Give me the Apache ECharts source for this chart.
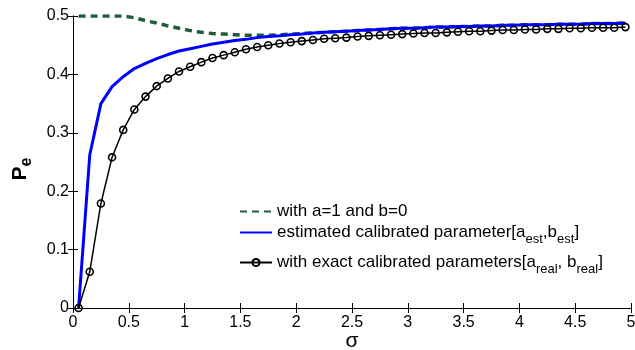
<!DOCTYPE html>
<html>
<head>
<meta charset="utf-8">
<script src="https://cdn.jsdelivr.net/npm/echarts@6/dist/echarts.min.js"></script>
<style>html,body{margin:0;padding:0;background:#fff}#c{width:635px;height:350px}</style>
</head>
<body>
<div id="c"></div>
<script>
var sigma = [0.05,0.15,0.25,0.35,0.45,0.55,0.65,0.75,0.85,0.95,
             1.05,1.15,1.25,1.35,1.45,1.55,1.65,1.75,1.85,1.95,
             2.05,2.15,2.25,2.35,2.45,2.55,2.65,2.75,2.85,2.95,
             3.05,3.15,3.25,3.35,3.45,3.55,3.65,3.75,3.85,3.95,
             4.05,4.15,4.25,4.35,4.45,4.55,4.65,4.75,4.85,4.95];
var pUncal = [0.500,0.500,0.500,0.500,0.500,0.497,0.492,0.488,0.483,0.479,
              0.475,0.472,0.470,0.469,0.468,0.467,0.467,0.467,0.468,0.469,
              0.470,0.471,0.472,0.473,0.474,0.475,0.476,0.477,0.478,0.479,
              0.479,0.480,0.481,0.481,0.482,0.482,0.483,0.483,0.484,0.484,
              0.485,0.485,0.485,0.486,0.486,0.486,0.487,0.487,0.487,0.488];
var pEst = [0.000,0.262,0.350,0.379,0.396,0.410,0.419,0.427,0.434,0.440,
            0.444,0.448,0.452,0.455,0.458,0.460,0.463,0.465,0.466,0.468,
            0.469,0.471,0.472,0.473,0.474,0.475,0.476,0.477,0.478,0.479,
            0.479,0.480,0.481,0.481,0.482,0.482,0.483,0.483,0.484,0.484,
            0.485,0.485,0.485,0.486,0.486,0.486,0.487,0.487,0.487,0.488];
var pReal = [0.000,0.062,0.179,0.258,0.305,0.340,0.362,0.380,0.393,0.405,
             0.413,0.421,0.428,0.433,0.438,0.443,0.447,0.450,0.453,0.455,
             0.457,0.459,0.461,0.462,0.463,0.465,0.466,0.467,0.468,0.469,
             0.470,0.471,0.471,0.472,0.473,0.474,0.474,0.475,0.476,0.476,
             0.477,0.477,0.478,0.478,0.479,0.479,0.480,0.480,0.480,0.481];
var xTicks = ['0','0.5','1','1.5','2','2.5','3','3.5','4','4.5','5'];
var yTicks = ['0','0.1','0.2','0.3','0.4','0.5'];
var names = ['with a=1 and b=0',
             'estimated calibrated parameter[a_est,b_est]',
             'with exact calibrated parameters[a_real, b_real]'];
var richNames = {};
richNames[names[0]] = '{t|with a=1 and b=0}';
richNames[names[1]] = '{t|estimated calibrated parameter[a}{s|est}{t|,b}{s|est}{t|]}';
richNames[names[2]] = '{t|with exact calibrated parameters[a}{s|real}{t|, b}{s|real}{t|]}';

function pairs(ys){ return sigma.map(function(x,i){ return [x, ys[i]]; }); }

var FONT = 'Liberation Sans';
var rich = {
  t: {fontFamily: FONT, fontSize: 17, color: '#000', lineHeight: 20},
  s: {fontFamily: FONT, fontSize: 13, color: '#000', lineHeight: 12, padding: [14,0,0,0]}
};
function legendAt(name, top, hideSymbol, ih){
  var l = {
    data: [name], left: 239, top: top, orient: 'vertical',
    itemWidth: 32, itemHeight: ih, itemGap: 0, padding: 0,
    formatter: function(n){ return richNames[n]; },
    textStyle: {fontFamily: FONT, fontSize: 17, color: '#000', rich: rich},
    selectedMode: false
  };
  if (hideSymbol) l.itemStyle = {opacity: 0};
  return l;
}
var tickStyle = {show: true, inside: true, length: 5, lineStyle: {color: '#000', width: 1}};
var lineAxis = {show: true, lineStyle: {color: '#000', width: 1}};
var labStyle = {fontFamily: FONT, fontSize: 16, color: '#000'};

var chart = echarts.init(document.getElementById('c'), null, {renderer: 'canvas'});
chart.setOption({
  animation: false,
  backgroundColor: '#fff',
  grid: {left: 73, right: 4, top: 16, bottom: 42, outerBoundsMode: 'none', containLabel: false},
  legend: [legendAt(names[0], 203, true, 12), legendAt(names[1], 219, true, 12), legendAt(names[2], 249, false, 9)],
  xAxis: [{
    type: 'value', min: 0, max: 5, interval: 0.5, position: 'bottom',
    axisLine: lineAxis, axisTick: tickStyle, splitLine: {show: false},
    axisLabel: Object.assign({margin: 7, formatter: function(v){ return xTicks[Math.round(v/0.5)]; }}, labStyle),
    name: 'σ', nameLocation: 'middle', nameGap: 23, nameMoveOverlap: false,
    nameTextStyle: {fontFamily: FONT, fontSize: 21, color: '#000'}
  },{
    type: 'value', min: 0, max: 5, interval: 0.5, position: 'top',
    axisLine: lineAxis, axisTick: tickStyle, splitLine: {show: false},
    axisLabel: {show: false}
  }],
  yAxis: [{
    type: 'value', min: 0, max: 0.5, interval: 0.1, position: 'left',
    axisLine: lineAxis, axisTick: tickStyle, splitLine: {show: false},
    axisLabel: Object.assign({margin: 4, formatter: function(v){ return yTicks[Math.round(v/0.1)]; }}, labStyle),
    name: '{p|P}{e|e}', nameLocation: 'middle', nameGap: 42, nameRotate: 90, nameMoveOverlap: false,
    nameTextStyle: {
      padding: [0, 14, 0, 0],
      rich: {
        p: {fontFamily: FONT, fontSize: 21, fontWeight: 'bold', color: '#000', lineHeight: 22},
        e: {fontFamily: FONT, fontSize: 16, fontWeight: 'bold', color: '#000', lineHeight: 14, padding: [14,0,0,0]}
      }
    }
  },{
    type: 'value', min: 0, max: 0.5, interval: 0.1, position: 'right',
    axisLine: lineAxis, axisTick: tickStyle, splitLine: {show: false},
    axisLabel: {show: false}
  }],
  series: [{
    name: names[0], type: 'line', data: pairs(pUncal), symbol: 'none',
    lineStyle: {color: '#1f5c3a', width: 3.5, type: [7,5]},
    itemStyle: {color: '#1f5c3a'}
  },{
    name: names[1], type: 'line', data: pairs(pEst), symbol: 'none',
    lineStyle: {color: '#0000ff', width: 3},
    itemStyle: {color: '#0000ff'}
  },{
    name: names[2], type: 'line', data: pairs(pReal), symbol: 'circle', symbolSize: 7,
    showAllSymbol: true,
    lineStyle: {color: '#000', width: 1.5},
    itemStyle: {color: 'rgba(255,255,255,0)', borderColor: '#000', borderWidth: 1.6}
  }]
});
</script>
</body>
</html>
